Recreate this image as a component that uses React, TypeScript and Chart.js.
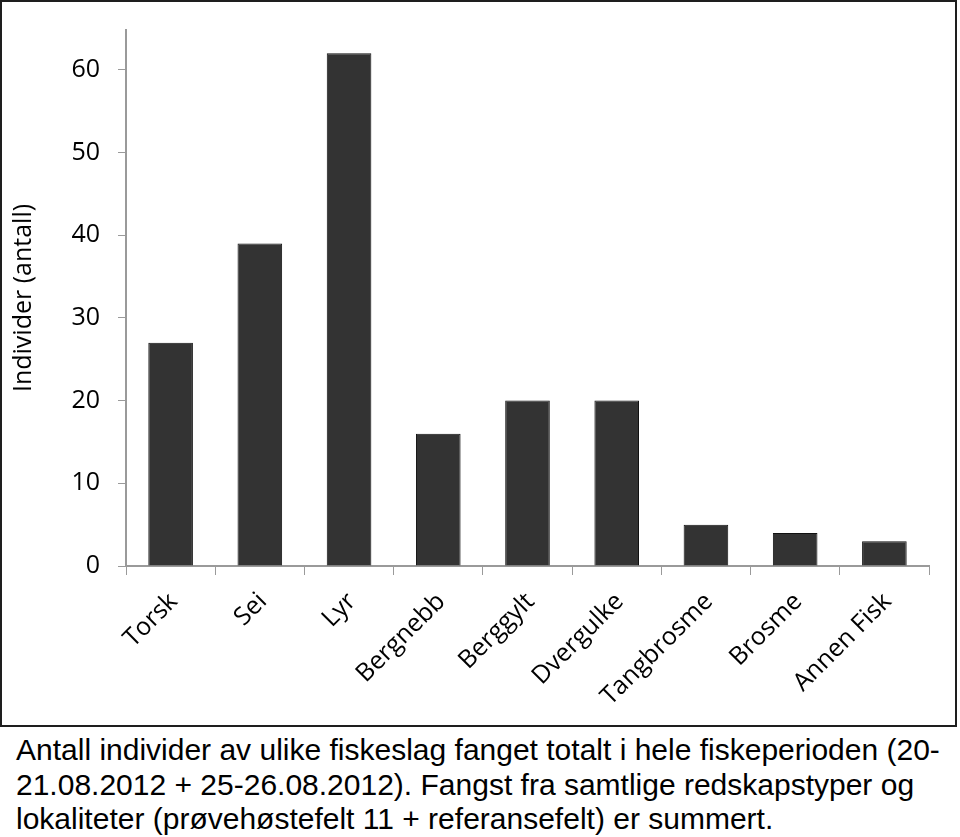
import React, { useEffect, useRef } from "react";
import { Chart, registerables } from "chart.js";

Chart.register(...registerables);

const categories = ["Torsk", "Sei", "Lyr", "Bergnebb", "Berggylt", "Dvergulke", "Tangbrosme", "Brosme", "Annen Fisk"];
const values = [27, 39, 62, 16, 20, 20, 5, 4, 3];
const yTicks = [0, 10, 20, 30, 40, 50, 60];
const yTitle = "Individer (antall)";
const captionLines = [
  "Antall individer av ulike fiskeslag fanget totalt i hele fiskeperioden (20-",
  "21.08.2012 + 25-26.08.2012). Fangst fra samtlige redskapstyper og",
  "lokaliteter (prøvehøstefelt 11 + referansefelt) er summert.",
];

export default function App() {
  const ref = useRef<HTMLCanvasElement>(null);
  useEffect(() => {
    if (!ref.current) return;
    const font = "'Open Sans', 'Noto Sans', sans-serif";
    const chart = new Chart(ref.current, {
      type: "bar",
      data: {
        labels: categories,
        datasets: [
          {
            data: values,
            backgroundColor: "#333333",
            borderColor: "#111111",
            borderWidth: 1,
            categoryPercentage: 1,
            barPercentage: 0.5,
          },
        ],
      },
      options: {
        responsive: false,
        animation: false,
        devicePixelRatio: 1,
        layout: { padding: { left: 0, right: 26, top: 28, bottom: 0 } },
        plugins: { legend: { display: false }, tooltip: { enabled: false } },
        scales: {
          x: {
            grid: { display: true, drawOnChartArea: false, drawTicks: true, tickLength: 9, color: "#9a9a9a", offset: true },
            border: { display: true, color: "#9a9a9a", width: 2 },
            ticks: { color: "#000", font: { family: font, size: 25 }, minRotation: 45, maxRotation: 45, padding: 12, labelOffset: 3, autoSkip: false },
            afterFit: (s: any) => { s.height = 159; s.paddingLeft = 0; s.paddingRight = 0; },
          },
          y: {
            min: 0,
            max: 64.8,
            afterBuildTicks: (s: any) => { s.ticks = yTicks.map((v) => ({ value: v })); },
            grid: { display: true, drawOnChartArea: false, drawTicks: true, tickLength: 8, color: "#9a9a9a" },
            border: { display: true, color: "#9a9a9a", width: 2 },
            ticks: { color: "#000", font: { family: font, size: 25 }, padding: 18 },
            title: { display: true, text: yTitle, color: "#000", font: { family: font, size: 25, weight: "normal" }, padding: { top: 7, bottom: 0 } },
            afterFit: (s: any) => { s.width = 124; s.paddingTop = 0; s.paddingBottom = 0; },
          },
        },
      },
    });
    return () => chart.destroy();
  }, []);
  return (
    <div style={{ position: "absolute", left: 0, top: 0, width: 960, height: 837, background: "#fff" }}>
      <div style={{ position: "absolute", left: 0, top: 0, width: 957, height: 727, border: "2px solid #1e1e1e", boxSizing: "border-box" }}>
        <canvas ref={ref} width={953} height={723} style={{ display: "block", width: 953, height: 723 }} />
      </div>
      <div
        style={{
          position: "absolute",
          left: 16,
          top: 733,
          fontFamily: "'Liberation Sans', Arial, sans-serif",
          fontSize: 30,
          lineHeight: "34.5px",
          color: "#000",
          whiteSpace: "nowrap",
        }}
      >
        {captionLines.map((l, i) => (
          <div key={i}>{l}</div>
        ))}
      </div>
    </div>
  );
}
